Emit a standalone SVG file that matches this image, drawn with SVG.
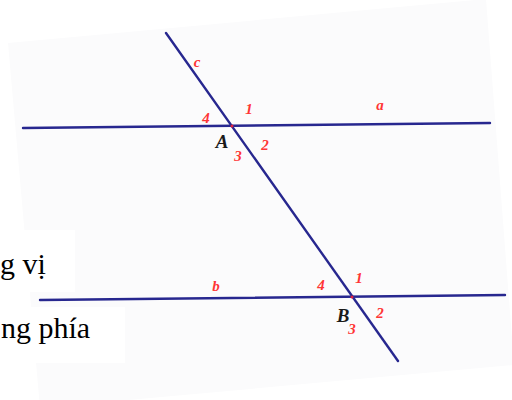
<svg xmlns="http://www.w3.org/2000/svg" width="512" height="400" viewBox="0 0 512 400">
<style>
.ln{stroke:#27278f;stroke-width:2.4;stroke-linecap:round;fill:none}
.lb{font-family:"Liberation Serif",serif;font-style:italic;font-weight:bold;font-size:15px;fill:#ff3535;text-anchor:middle}
.pt{font-family:"Liberation Serif",serif;font-style:italic;font-weight:bold;font-size:19px;fill:#1a1a1a;text-anchor:middle}
.tx{font-family:"Liberation Serif",serif;font-size:30px;fill:#000}
</style>
<rect width="512" height="400" fill="#ffffff"/>
<polygon points="8,43 486,-1 514,365 40,408" fill="#fbfbfc"/>
<rect x="0" y="230" width="75" height="62" fill="#ffffff"/>
<rect x="0" y="307" width="125" height="56" fill="#ffffff"/>
<g id="text-left">
<text class="tx" x="0" y="274">g vị</text>
<text class="tx" x="1" y="338">ng phía</text>
</g>
<g id="connectors">
<line class="ln" x1="23" y1="128" x2="490" y2="123"/>
<line class="ln" x1="40" y1="300" x2="505" y2="295"/>
<line class="ln" x1="166" y1="33" x2="398" y2="361"/>
</g>
<g id="A">
<circle cx="232" cy="126" r="1.5" fill="#e02040"/>
<text class="pt" x="222" y="148">A</text>
<text class="lb" x="249" y="114">1</text>
<text class="lb" x="265" y="150">2</text>
<text class="lb" x="238" y="161">3</text>
<text class="lb" x="206" y="123">4</text>
</g>
<g id="B">
<circle cx="352" cy="297" r="1.5" fill="#e02040"/>
<text class="pt" x="343" y="322">B</text>
<text class="lb" x="359" y="283">1</text>
<text class="lb" x="380" y="318">2</text>
<text class="lb" x="352" y="334">3</text>
<text class="lb" x="321" y="290">4</text>
</g>
<g id="labels">
<text class="lb" x="197" y="67">c</text>
<text class="lb" x="380" y="110">a</text>
<text class="lb" x="216" y="291">b</text>
</g>
</svg>
